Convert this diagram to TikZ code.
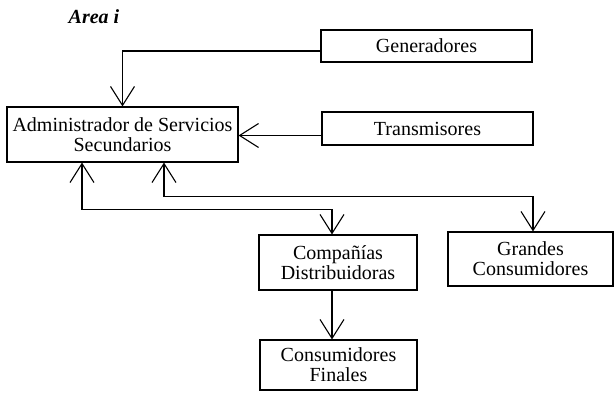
\documentclass[tikz,border=0pt]{standalone}
\usepackage{fontspec}
\setmainfont{Liberation Serif}
\usetikzlibrary{arrows.meta,calc}
\begin{document}
\begin{tikzpicture}[x=1pt,y=-1pt,
  box/.style={draw,line width=1.1pt,rectangle,inner sep=0pt,align=center,
    font=\fontsize{20}{20}\selectfont},
  link/.style={line width=1.1pt},
  tip/.tip={Straight Barb[length=19pt,width=24pt,line width=1.1pt]},
  fwd/.style={link,-tip},
  both/.style={link,tip-tip}]
\useasboundingbox (0,0) rectangle (616,395);
\node[font=\fontsize{20}{20}\selectfont\bfseries\itshape] (area) at (94,17) {Area i};
\node[box,minimum width=211pt,minimum height=32pt] (gen) at (426.5,46) {Generadores};
\node[box,minimum width=211pt,minimum height=33pt] (tra) at (427.5,128.5) {Transmisores};
\node[box,minimum width=231pt,minimum height=55pt] (adm) at (122.5,134.5) {Administrador de Servicios\\Secundarios};
\node[box,minimum width=158pt,minimum height=55pt] (com) at (338,262.5) {Compañías\\Distribuidoras};
\node[box,minimum width=165pt,minimum height=54pt] (gra) at (530.5,259) {Grandes\\Consumidores};
\node[box,minimum width=157pt,minimum height=50pt] (fin) at (338.5,365) {Consumidores\\Finales};
\coordinate (gout) at ($(gen.west)+(0,5)$);
\coordinate (tout) at ($(tra.west)+(0,7)$);
\draw[fwd] (gout) -| (adm.north);
\draw[fwd] (tout) -- (tout -| adm.east);
\draw[both] ([xshift=41.5pt]adm.south) -- ++(0,34) -| ([xshift=2.5pt]gra.north);
\draw[both] ([xshift=-40.5pt]adm.south) -- ++(0,47) -| ([xshift=-6pt]com.north);
\draw[fwd] ([xshift=-6pt]com.south) -- ([xshift=-6.5pt]fin.north);
\end{tikzpicture}
\end{document}
